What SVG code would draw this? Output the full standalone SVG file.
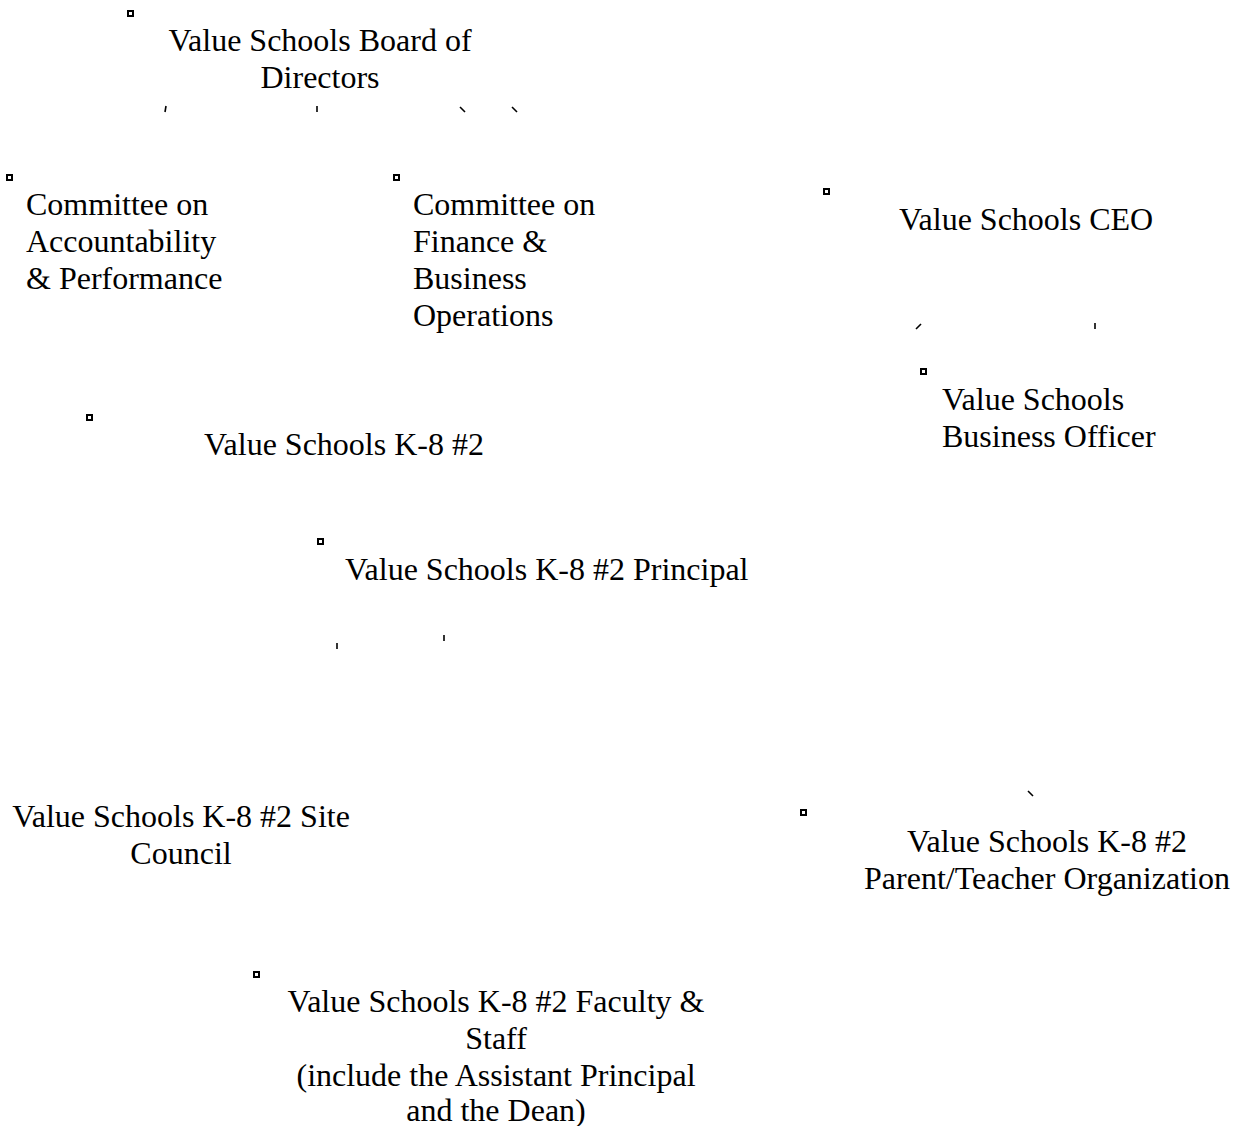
<svg xmlns="http://www.w3.org/2000/svg" width="1238" height="1126" viewBox="0 0 1238 1126">
<style>
text{font-family:"Liberation Serif","Times New Roman",serif;font-size:32px;fill:#000}
.c{text-anchor:middle}
.m{fill:#fff;stroke:#000;stroke-width:2}
.t{stroke:#000;stroke-width:1.6;fill:none}
</style>
<rect width="1238" height="1126" fill="#fff"/>
<g id="connectors">
<line class="t" x1="166" y1="106" x2="165" y2="112"/>
<line class="t" x1="317" y1="106" x2="317" y2="112"/>
<line class="t" x1="460" y1="107" x2="465" y2="112"/>
<line class="t" x1="512" y1="107" x2="517" y2="112"/>
<line class="t" x1="921" y1="324" x2="916" y2="329"/>
<line class="t" x1="1095" y1="323" x2="1095" y2="329"/>
<line class="t" x1="337" y1="643" x2="337" y2="649"/>
<line class="t" x1="444" y1="635" x2="444" y2="641"/>
<line class="t" x1="1028" y1="791" x2="1033" y2="796"/>
</g>
<g id="board">
<rect class="m" x="128" y="11" width="5" height="5"/>
<text class="c" x="320" y="51">Value Schools Board of</text>
<text class="c" x="320" y="88">Directors</text>
</g>
<g id="committee-accountability">
<rect class="m" x="7" y="175" width="5" height="5"/>
<text x="26" y="215">Committee on</text>
<text x="26" y="252">Accountability</text>
<text x="26" y="289">&amp; Performance</text>
</g>
<g id="committee-finance">
<rect class="m" x="394" y="175" width="5" height="5"/>
<text x="413" y="215">Committee on</text>
<text x="413" y="252">Finance &amp;</text>
<text x="413" y="289">Business</text>
<text x="413" y="326">Operations</text>
</g>
<g id="ceo">
<rect class="m" x="824" y="189" width="5" height="5"/>
<text x="899" y="230">Value Schools CEO</text>
</g>
<g id="business-officer">
<rect class="m" x="921" y="369" width="5" height="5"/>
<text x="942" y="410">Value Schools</text>
<text x="942" y="447">Business Officer</text>
</g>
<g id="k8">
<rect class="m" x="87" y="415" width="5" height="5"/>
<text x="204" y="455">Value Schools K-8 #2</text>
</g>
<g id="principal">
<rect class="m" x="318" y="539" width="5" height="5"/>
<text x="345" y="580">Value Schools K-8 #2 Principal</text>
</g>
<g id="site-council">
<text class="c" x="181" y="827">Value Schools K-8 #2 Site</text>
<text class="c" x="181" y="864">Council</text>
</g>
<g id="pto">
<rect class="m" x="801" y="810" width="5" height="5"/>
<text class="c" x="1047" y="852">Value Schools K-8 #2</text>
<text class="c" x="1047" y="889">Parent/Teacher Organization</text>
</g>
<g id="faculty">
<rect class="m" x="254" y="972" width="5" height="5"/>
<text class="c" x="496" y="1012">Value Schools K-8 #2 Faculty &amp;</text>
<text class="c" x="496" y="1049">Staff</text>
<text class="c" x="496" y="1086">(include the Assistant Principal</text>
<text class="c" x="496" y="1121">and the Dean)</text>
</g>
</svg>
